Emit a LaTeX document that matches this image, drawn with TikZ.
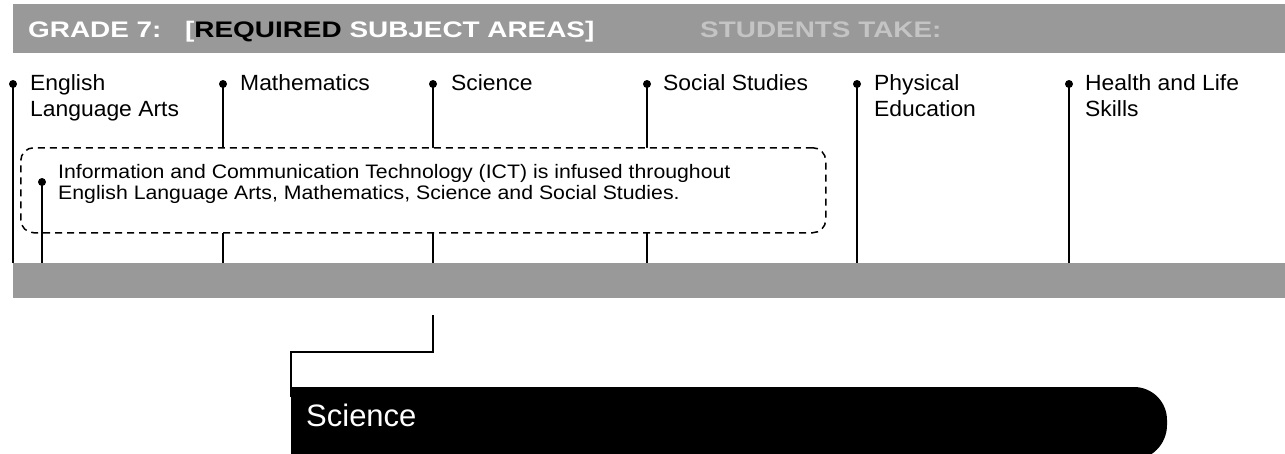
\documentclass[tikz,border=0pt]{standalone}
\usepackage{fontspec}
\setmainfont{Liberation Sans}
\newfontfamily\hdrfont[FakeStretch=1.24]{Liberation Sans}
\newfontfamily\lblfont[FakeStretch=1.04]{Liberation Sans}
\newfontfamily\ictfont[FakeStretch=1.09]{Liberation Sans}
\newfontfamily\scifont{Liberation Sans}
\definecolor{barGray}{HTML}{999999}
\definecolor{lightGray}{HTML}{C4C4C4}
\tikzset{
  conn/.style={line width=2pt, black},
  bulletdot/.style={fill=black},
  lbl/.style={anchor=north west, inner sep=0pt, align=left, font=\lblfont\fontsize{22}{26}\selectfont},
  hdr/.style={inner sep=0pt, font=\hdrfont\bfseries\fontsize{22.5}{26}\selectfont},
  bar/.style={fill=barGray, inner sep=0pt, anchor=north west},
}
\newcommand{\lstrut}{\rule{0pt}{17pt}}
\begin{document}
\begin{tikzpicture}[x=1pt,y=-1pt]
\useasboundingbox (0,0) rectangle (1285,453);
% header bar
\node[bar, minimum width=1272pt, minimum height=49pt] (hbar) at (13,4) {};
\node[hdr, anchor=base west, text=white] (h1) at (28,37) {GRADE 7:};
\node[hdr, anchor=base west, text=white] (h2) at (185,37) {[\textcolor{black}{REQUIRED} SUBJECT AREAS]};
\node[hdr, anchor=base west, text=lightGray] (h3) at (700,37) {STUDENTS TAKE:};
% lower bar
\node[bar, minimum width=1272pt, minimum height=35pt] (lbar) at (13,263) {};
% bullets
\foreach \n/\x in {eng/13, mat/223, sci/433, soc/647, phy/857, hea/1069}{
  \coordinate (d\n) at (\x,84);
  \draw[conn] (d\n) -- (d\n |- lbar.north);
  \fill[bulletdot] (d\n) circle (4pt);
}
% labels
\node[lbl] (leng) at (30,73) {\lstrut English\\Language Arts};
\node[lbl] (lmat) at (240,73) {\lstrut Mathematics};
\node[lbl] (lsci) at (451,73) {\lstrut Science};
\node[lbl] (lsoc) at (663,73) {\lstrut Social Studies};
\node[lbl] (lphy) at (874,73) {\lstrut Physical\\Education};
\node[lbl] (lhea) at (1085,73) {\lstrut Health and Life\\Skills};
% ICT box
\node[draw, line width=1.5pt, dash pattern=on 7pt off 5pt, rounded corners=13pt, fill=white,
      minimum width=805pt, minimum height=85pt, inner sep=0pt, anchor=north west] (ictbox) at (20,147) {};
\node[anchor=north west, inner sep=0pt, align=left, font=\ictfont\fontsize{19.5}{21.5}\selectfont] (icttext) at (58,163)
  {\rule{0pt}{15pt}Information and Communication Technology (ICT) is infused throughout\\English Language Arts, Mathematics, Science and Social Studies.};
\coordinate (dict) at (42,182);
\draw[conn] (dict) -- (dict |- lbar.north);
\fill[bulletdot] (dict) circle (4pt);
% science connector
\coordinate (stop) at (433,315);
\coordinate (sbend) at (291,352);
\draw[conn] (stop) |- (sbend) -- ++(0,45);
% black science bar
\fill[black] (291,387) -- (1134,387) arc[start angle=-90, end angle=0, radius=33] -- (1167,425)
  arc[start angle=0, end angle=90, radius=35] -- (291,460) -- cycle;
\node[anchor=base west, inner sep=0pt, text=white, font=\scifont\fontsize{31}{34}\selectfont] (scititle) at (306,426) {Science};
\end{tikzpicture}
\end{document}
